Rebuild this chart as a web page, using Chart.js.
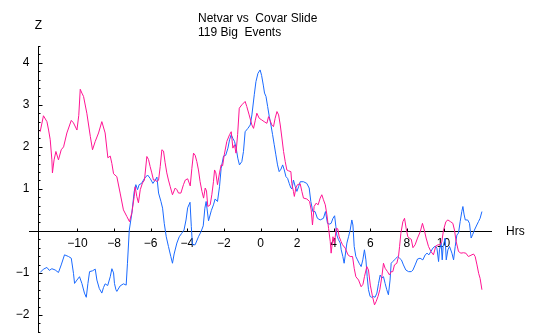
<!DOCTYPE html>
<html>
<head>
<meta charset="utf-8">
<title>Netvar vs Covar Slide</title>
<script src="https://cdn.jsdelivr.net/npm/chart.js@4.4.1/dist/chart.umd.min.js"></script>
<style>
  html, body { margin: 0; padding: 0; background: #fff; overflow: hidden; }
  canvas { display: block; }
</style>
</head>
<body>
<canvas id="chart" width="540" height="333"></canvas>
<script>
// hours relative to event, Z score
const netvarHours = [
  -12.04, -11.86, -11.67, -11.58, -11.49, -11.4, -11.37, -11.28, -11.18, -11.04,
  -10.89, -10.76, -10.58, -10.34, -10.22, -10.03, -9.93, -9.85, -9.76, -9.67,
  -9.49, -9.3, -9.18, -9.03, -8.85, -8.67, -8.49, -8.34, -8.21, -8.12,
  -8.03, -7.85, -7.67, -7.49, -7.3, -7.16, -7.03, -6.9, -6.85, -6.76,
  -6.67, -6.57, -6.45, -6.34, -6.21, -6.12, -6.03, -5.94, -5.85, -5.75,
  -5.66, -5.57, -5.48, -5.39, -5.3, -5.21, -5.12, -5.03, -4.93, -4.81,
  -4.66, -4.57, -4.48, -4.35, -4.21, -4.11, -3.98, -3.84, -3.75, -3.66,
  -3.57, -3.48, -3.39, -3.3, -3.2, -3.11, -3.02, -2.95, -2.88, -2.75,
  -2.66, -2.57, -2.51, -2.44, -2.35, -2.24, -2.15, -2.07, -1.98, -1.84,
  -1.69, -1.6, -1.51, -1.42, -1.34, -1.25, -1.16, -1.02, -0.84, -0.75,
  -0.62, -0.47, -0.38, -0.29, -0.2, -0.07, 0.07, 0.2, 0.35, 0.44,
  0.53, 0.62, 0.71, 0.8, 0.9, 0.99, 1.08, 1.17, 1.26, 1.35,
  1.44, 1.53, 1.66, 1.71, 1.8, 1.85, 1.93, 2.02, 2.17, 2.26,
  2.35, 2.53, 2.68, 2.77, 2.84, 2.93, 3.04, 3.15, 3.26, 3.35,
  3.44, 3.54, 3.63, 3.72, 3.81, 3.86, 3.96, 4.04, 4.14, 4.22,
  4.3, 4.4, 4.48, 4.63, 4.78, 4.9, 5.03, 5.12, 5.21, 5.36,
  5.5, 5.6, 5.68, 5.81, 5.9, 6.0, 6.12, 6.23, 6.32, 6.42,
  6.52, 6.63, 6.72, 6.81, 6.94, 7.05, 7.14, 7.23, 7.32, 7.45,
  7.54, 7.6, 7.67, 7.78, 7.87, 7.96, 8.05, 8.13, 8.24, 8.33,
  8.45, 8.58, 8.73, 8.85, 8.95, 9.05, 9.18, 9.31, 9.45, 9.58,
  9.7, 9.82, 9.91, 10.0, 10.13, 10.24, 10.38, 10.51, 10.6, 10.69,
  10.82, 10.95, 11.09, 11.22, 11.36, 11.5, 11.64, 11.73, 11.83, 11.92,
  12.0, 12.1
];
const netvarZ = [
  2.36, 2.74, 2.6, 2.4, 2.17, 1.69, 1.38, 1.69, 1.89, 1.69,
  1.93, 2.0, 2.33, 2.63, 2.57, 2.4, 2.75, 3.37, 3.28, 3.2,
  2.8, 2.25, 1.93, 2.13, 2.33, 2.6, 2.33, 1.74, 1.78, 1.6,
  1.36, 1.29, 0.9, 0.5, 0.34, 0.22, 0.43, 0.82, 1.05, 0.82,
  0.67, 0.98, 1.14, 1.21, 1.77, 1.7, 1.53, 1.38, 1.21, 1.21,
  1.17, 1.21, 1.53, 1.93, 1.9, 1.62, 1.38, 1.21, 1.05, 0.86,
  1.02, 0.98, 0.9, 0.9, 1.1, 1.21, 1.24, 1.07, 1.49, 1.85,
  1.8, 1.65, 1.45, 1.17, 0.94, 0.78, 1.02, 0.95, 0.58, 0.62,
  0.86, 1.17, 1.45, 1.38, 1.1, 1.38, 1.57, 1.55, 1.81, 2.13,
  2.29, 2.36, 1.97, 2.05, 1.85, 2.29, 2.92, 3.0, 3.08, 2.96,
  2.76, 2.52, 2.44, 2.62, 2.8, 2.68, 2.64, 2.6, 2.56, 2.72,
  2.62, 2.52, 2.48, 2.68, 2.84, 2.76, 2.52, 2.21, 1.89, 1.65,
  1.45, 1.43, 1.41, 1.13, 0.94, 0.82, 1.02, 1.1, 1.12, 0.94,
  0.78, 0.76, 0.7, 0.5, 0.14, 0.58, 0.66, 0.62, 0.78, 0.86,
  0.74, 0.62, 0.38, 0.06, -0.25, -0.53, -0.14, -0.3, 0.06, 0.05,
  -0.14, -0.25, -0.33, -0.41, -0.57, -0.61, -0.61, -0.89, -1.09, -1.17,
  -1.33, -1.27, -1.09, -0.85, -0.93, -1.29, -1.56, -1.76, -1.68, -1.56,
  -1.4, -1.09, -0.77, -0.89, -0.97, -1.05, -0.97, -0.97, -0.81, -0.77,
  -0.61, -0.37, -0.06, 0.22, 0.3, 0.06, -0.14, -0.17, -0.2, -0.4,
  -0.33, -0.17, -0.02, 0.18, 0.02, -0.17, -0.37, -0.49, -0.57, -0.36,
  -0.33, -0.33, -0.25, 0.02, 0.22, 0.26, 0.22, 0.18, 0.02, -0.25,
  -0.49, -0.53, -0.52, -0.53, -0.61, -0.58, -0.55, -0.61, -0.81, -1.01,
  -1.13, -1.4
];

const covarHours = [
  -12.04, -11.86, -11.67, -11.54, -11.4, -11.22, -11.04, -10.89, -10.71, -10.49,
  -10.34, -10.22, -10.16, -10.03, -9.89, -9.76, -9.62, -9.52, -9.43, -9.34,
  -9.18, -9.03, -8.94, -8.81, -8.67, -8.58, -8.49, -8.35, -8.21, -8.12,
  -8.03, -7.98, -7.9, -7.85, -7.67, -7.49, -7.34, -7.27, -7.17, -7.03,
  -6.9, -6.81, -6.72, -6.63, -6.5, -6.34, -6.17, -6.03, -5.88, -5.75,
  -5.66, -5.57, -5.44, -5.35, -5.26, -5.15, -5.03, -4.9, -4.81, -4.72,
  -4.57, -4.44, -4.31, -4.18, -4.07, -3.98, -3.85, -3.78, -3.72, -3.57,
  -3.39, -3.25, -3.13, -3.04, -2.97, -2.84, -2.69, -2.57, -2.48, -2.35,
  -2.24, -2.15, -2.02, -1.9, -1.78, -1.69, -1.6, -1.51, -1.42, -1.33,
  -1.24, -1.15, -1.02, -0.93, -0.84, -0.69, -0.56, -0.47, -0.34, -0.25,
  -0.14, -0.02, 0.06, 0.16, 0.22, 0.3, 0.39, 0.48, 0.57, 0.66,
  0.75, 0.84, 0.93, 1.02, 1.12, 1.21, 1.3, 1.39, 1.48, 1.57,
  1.66, 1.72, 1.8, 1.9, 1.99, 2.08, 2.17, 2.35, 2.53, 2.66,
  2.75, 2.86, 2.98, 3.11, 3.26, 3.44, 3.55, 3.66, 3.75, 3.86,
  3.96, 4.05, 4.12, 4.17, 4.26, 4.36, 4.41, 4.5, 4.57, 4.64,
  4.72, 4.81, 4.9, 4.99, 5.05, 5.12, 5.21, 5.3, 5.39, 5.5,
  5.59, 5.68, 5.76, 5.83, 5.9, 5.99, 6.08, 6.17, 6.26, 6.36,
  6.45, 6.54, 6.63, 6.72, 6.81, 6.9, 6.99, 7.08, 7.14, 7.23,
  7.32, 7.41, 7.5, 7.6, 7.7, 7.81, 7.94, 8.09, 8.24, 8.33,
  8.45, 8.58, 8.72, 8.87, 9.0, 9.1, 9.2, 9.31, 9.42, 9.55,
  9.64, 9.73, 9.78, 9.87, 9.93, 9.98, 10.09, 10.15, 10.24, 10.33,
  10.46, 10.55, 10.64, 10.73, 10.82, 10.91, 11.0, 11.06, 11.12, 11.19,
  11.32, 11.42, 11.51, 11.6, 11.69, 11.82, 11.91, 12.0, 12.1
];
const covarZ = [
  -0.99, -0.91, -0.87, -0.94, -0.9, -0.93, -0.99, -0.81, -0.57, -0.61,
  -0.65, -1.01, -1.25, -1.17, -1.09, -1.25, -1.48, -1.58, -1.25, -0.97,
  -0.95, -0.91, -1.17, -1.37, -1.48, -1.35, -1.26, -1.3, -1.09, -0.9,
  -1.0, -1.25, -1.4, -1.44, -1.31, -1.26, -1.29, -0.77, 0.02, 0.42,
  0.94, 1.1, 0.98, 1.1, 1.13, 1.25, 1.33, 1.25, 1.13, 1.21,
  1.28, 0.9, 0.7, 0.54, 0.18, -0.14, -0.37, -0.61, -0.77, -0.55,
  -0.29, -0.14, -0.06, 0.02, 0.26, 0.55, 0.68, 0.1, -0.33, -0.33,
  -0.14, -0.02, 0.12, 0.54, 0.7, 0.24, 0.48, 0.62, 0.76, 0.7,
  1.05, 1.49, 1.78, 1.8, 1.97, 2.17, 2.29, 2.2, 2.13, 1.97,
  1.73, 1.57, 1.65, 1.89, 2.36, 2.44, 2.52, 2.76, 3.24, 3.55,
  3.75, 3.83, 3.7, 3.45, 3.28, 3.2, 2.96, 2.72, 2.52, 2.29,
  2.05, 1.81, 1.57, 1.41, 1.47, 1.57, 1.45, 1.29, 1.25, 1.13,
  1.02, 1.0, 1.21, 1.05, 0.94, 1.05, 1.17, 1.17, 1.13, 1.02,
  0.7, 0.46, 0.46, 0.3, 0.26, 0.3, 0.46, 0.18, 0.16, 0.18,
  0.3, 0.36, 0.1, -0.1, -0.21, -0.29, -0.45, -0.61, -0.77, -0.55,
  -0.29, -0.14, 0.02, 0.26, 0.14, -0.37, -0.61, -0.69, -0.77, -0.85,
  -0.69, -0.45, -0.69, -1.09, -1.4, -1.56, -1.58, -1.56, -1.58, -1.48,
  -1.25, -1.05, -1.12, -1.09, -1.25, -1.4, -1.52, -1.17, -0.77, -0.73,
  -0.69, -0.65, -0.61, -0.65, -0.69, -0.81, -0.93, -0.97, -0.97, -0.93,
  -0.81, -0.67, -0.65, -0.69, -0.57, -0.53, -0.57, -0.49, -0.41, -0.36,
  -0.41, -0.73, -0.45, -0.29, -0.69, -0.37, -0.17, -0.69, -0.45, -0.37,
  -0.53, -0.69, -0.37, -0.1, -0.05, 0.22, 0.46, 0.58, 0.4, 0.26,
  0.26, 0.18, -0.17, -0.08, 0.02, 0.14, 0.22, 0.3, 0.46
];

const xTicks = [-10, -8, -6, -4, -2, 0, 2, 4, 6, 8, 10];
const yTicks = [-2, -1, 1, 2, 3, 4];

const FONT = '"Liberation Sans", Arial, sans-serif';
const yAxisAt = -12.17; // where the Z axis crosses the Hrs axis

function toPoints(xs, ys) {
  return xs.map((x, i) => ({ x: x, y: ys[i] }));
}

// axes that cross at zero, drawn with the chart's own scales
const crossAxes = {
  id: "crossAxes",
  beforeDatasetsDraw(chart) {
    const { ctx, chartArea, scales } = chart;
    const sx = scales.x, sy = scales.y;
    const y0 = Math.round(sy.getPixelForValue(0)) + 0.5;
    const xa = Math.round(sx.getPixelForValue(yAxisAt)) + 0.5;

    ctx.save();
    ctx.strokeStyle = "#000";
    ctx.lineWidth = 1;
    ctx.beginPath();
    ctx.moveTo(chartArea.left, y0);
    ctx.lineTo(chartArea.right, y0);
    ctx.moveTo(xa, chartArea.top);
    ctx.lineTo(xa, chartArea.bottom);

    xTicks.forEach(v => {
      const px = Math.round(sx.getPixelForValue(v)) + 0.5;
      ctx.moveTo(px, y0);
      ctx.lineTo(px, y0 - 3);
    });

    // minor ticks every 0.2
    for (let i = Math.ceil(sy.min * 5); i <= Math.floor(sy.max * 5 + 0.001); i++) {
      const py = Math.round(sy.getPixelForValue(i / 5)) + 0.5;
      const len = i % 5 === 0 ? 4 : 2;
      ctx.moveTo(xa, py);
      ctx.lineTo(xa + len, py);
    }
    ctx.stroke();

    ctx.fillStyle = "#000";
    ctx.font = "12px " + FONT;
    ctx.textBaseline = "middle";
    ctx.textAlign = "center";
    xTicks.forEach(v => {
      const label = v < 0 ? "\u2212" + Math.abs(v) : String(v);
      ctx.fillText(label, sx.getPixelForValue(v), y0 + 12);
    });

    ctx.textAlign = "right";
    yTicks.forEach(v => {
      const label = v < 0 ? "\u2212" + Math.abs(v) : String(v);
      ctx.fillText(label, xa - 9, sy.getPixelForValue(v));
    });

    ctx.textAlign = "center";
    ctx.fillText("Z", xa, 26);
    ctx.textAlign = "left";
    ctx.fillText("Hrs", 506, y0);

    ctx.font = "12px " + FONT;
    ctx.fillText("Netvar vs  Covar Slide", 198, 19);
    ctx.fillText("119 Big  Events", 198, 33);
    ctx.restore();
  }
};

const ctx = document.getElementById("chart").getContext("2d");
new Chart(ctx, {
  type: "line",
  data: {
    datasets: [
      {
        label: "Netvar",
        data: toPoints(netvarHours, netvarZ),
        borderColor: "#ff1493",
        borderWidth: 1,
        pointRadius: 0,
        tension: 0,
        fill: false
      },
      {
        label: "Covar",
        data: toPoints(covarHours, covarZ),
        borderColor: "#1a6aff",
        borderWidth: 1,
        pointRadius: 0,
        tension: 0,
        fill: false
      }
    ]
  },
  options: {
    responsive: false,
    animation: false,
    devicePixelRatio: 1,
    layout: { padding: { left: 29, right: 48, top: 46, bottom: 0 } },
    plugins: {
      legend: { display: false },
      tooltip: { enabled: false },
      title: { display: false }
    },
    scales: {
      x: { type: "linear", min: -12.65, max: 12.65, display: false },
      y: { type: "linear", min: -2.43, max: 4.4, display: false }
    }
  },
  plugins: [crossAxes]
});
</script>
</body>
</html>
